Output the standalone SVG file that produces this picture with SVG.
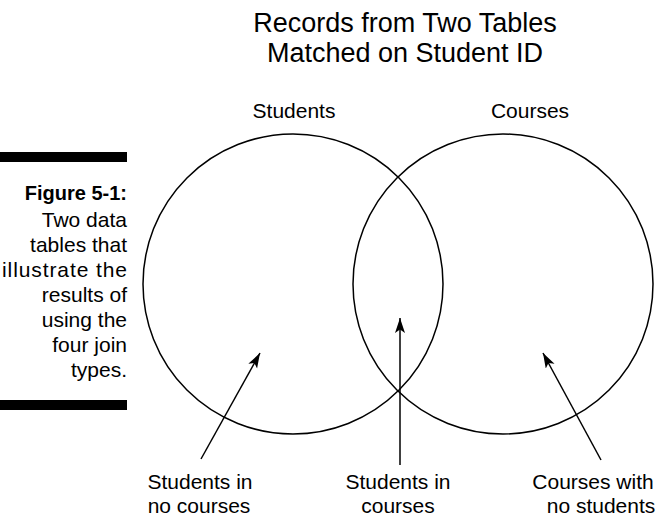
<svg xmlns="http://www.w3.org/2000/svg" width="667" height="520" viewBox="0 0 667 520">
  <style>
    text { font-family: "Liberation Sans", Arial, sans-serif; fill: #000; }
    .title { font-size: 27px; text-anchor: middle; }
    .lbl { font-size: 21px; text-anchor: middle; }
    .cap { font-size: 21px; text-anchor: end; }
    .capb { font-size: 20px; font-weight: bold; text-anchor: end; }
    .set { fill: none; stroke: #000; stroke-width: 1.5; }
    .arr { fill: none; stroke: #000; stroke-width: 1.5; marker-end: url(#ah); }
    .bar { fill: #000; }
  </style>
  <defs>
    <marker id="ah" markerUnits="userSpaceOnUse" markerWidth="16" markerHeight="12" refX="15" refY="5" orient="auto">
      <path d="M0,0 L15,5 L0,10 L3.5,5 Z" fill="#000"/>
    </marker>
  </defs>
  <rect width="667" height="520" fill="#fff"/>

  <g id="title">
    <text class="title" x="405" y="32">Records from Two Tables</text>
    <text class="title" x="405" y="62">Matched on Student ID</text>
  </g>

  <g id="caption">
    <rect class="bar" x="0" y="152" width="127" height="10"/>
    <text class="capb" x="127" y="200">Figure 5-1:</text>
    <text class="cap" x="127" y="227">Two data</text>
    <text class="cap" x="127" y="252">tables that</text>
    <text class="cap" x="127" y="277" textLength="125" lengthAdjust="spacing">illustrate the</text>
    <text class="cap" x="127" y="302">results of</text>
    <text class="cap" x="127" y="327">using the</text>
    <text class="cap" x="127" y="352">four join</text>
    <text class="cap" x="127" y="377">types.</text>
    <rect class="bar" x="0" y="400" width="127" height="10"/>
  </g>

  <g id="students">
    <circle class="set" cx="293" cy="284" r="150"/>
    <text class="lbl" x="294" y="118">Students</text>
  </g>
  <g id="courses">
    <circle class="set" cx="503" cy="284" r="150"/>
    <text class="lbl" x="530" y="118">Courses</text>
  </g>

  <g id="label-left">
    <text class="lbl" x="200" y="489">Students in</text>
    <text class="lbl" x="199" y="513">no courses</text>
  </g>
  <g id="label-middle">
    <text class="lbl" x="398" y="489">Students in</text>
    <text class="lbl" x="398" y="513">courses</text>
  </g>
  <g id="label-right">
    <text class="lbl" x="593" y="489">Courses with</text>
    <text class="lbl" x="601" y="513">no students</text>
  </g>

  <g id="connectors">
    <line class="arr" x1="201" y1="459" x2="260" y2="353"/>
    <line class="arr" x1="400" y1="465" x2="400" y2="318"/>
    <line class="arr" x1="601" y1="460" x2="543" y2="353"/>
  </g>
</svg>
